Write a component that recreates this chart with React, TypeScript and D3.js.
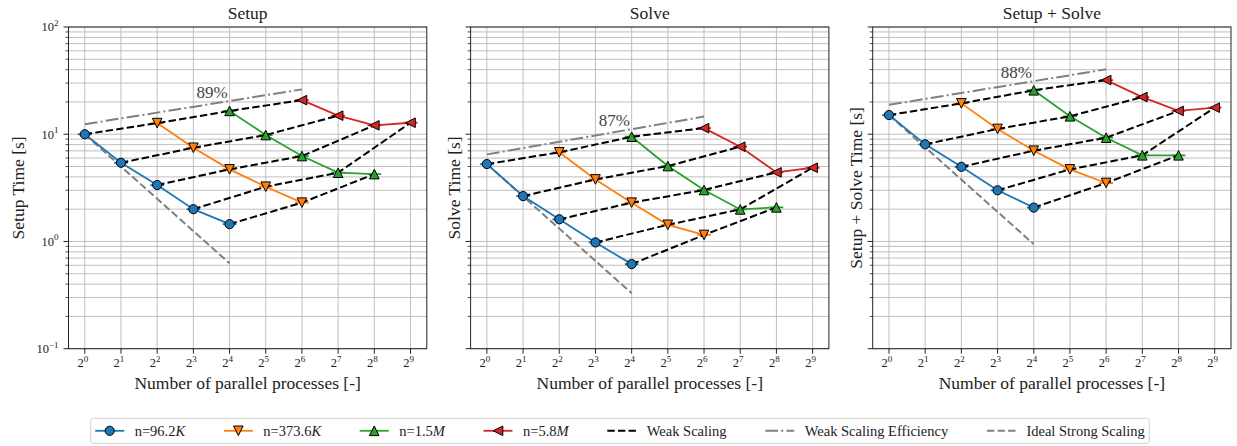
import React from 'react';
import * as d3 from 'd3';

// ---------------- data ----------------
const processes = [1, 2, 4, 8, 16, 32, 64, 128, 256, 512];
const tickExponents = ['0', '1', '2', '3', '4', '5', '6', '7', '8', '9'];
const yTickValues = [0.1, 1, 10, 100];
const yTickExps = ['\u22121', '0', '1', '2'];

const seriesLabels = ['n=96.2', 'n=373.6', 'n=1.5', 'n=5.8'];
const seriesUnits = ['K', 'K', 'M', 'M'];
const seriesStartIndex = [0, 2, 4, 6];
const seriesColors = ['#1f77b4', '#ff7f0e', '#2ca02c', '#d62728'];
const seriesMarkers = ['circle', 'down', 'up', 'left'];

// Setup times [s]
const setupN96 = [10.0, 5.42, 3.36, 2.0, 1.45];
const setupN373 = [12.7, 7.48, 4.7, 3.24, 2.3];
const setupN1500 = [16.5, 9.83, 6.26, 4.38, 4.25];
const setupN5800 = [20.8, 14.9, 12.1, 12.8];

// Solve times [s]
const solveN96 = [5.27, 2.65, 1.61, 0.98, 0.615];
const solveN373 = [6.78, 3.79, 2.3, 1.43, 1.15];
const solveN1500 = [9.48, 5.05, 3.02, 1.99, 2.08];
const solveN5800 = [11.4, 7.65, 4.41, 4.87];

// Setup + Solve times [s]
const totalN96 = [15.1, 8.05, 4.97, 3.0, 2.07];
const totalN373 = [19.4, 11.2, 7.02, 4.7, 3.51];
const totalN1500 = [25.7, 14.7, 9.28, 6.36, 6.36];
const totalN5800 = [32.0, 22.2, 16.5, 17.7];

// Weak scaling efficiency reference lines (value at 2^0 and at 2^6)
const effIndex = [0, 6];
const setupEff = [12.4, 26.2];
const solveEff = [6.49, 14.6];
const totalEff = [18.8, 40.3];
const effLabels = ['89%', '87%', '88%'];

const idealStrongCount = 5; // 2^0 .. 2^4

const panelTitles = ['Setup', 'Solve', 'Setup + Solve'];
const panelYLabels = ['Setup Time [s]', 'Solve Time [s]', 'Setup + Solve Time [s]'];
const xAxisLabel = 'Number of parallel processes [-]';

const panels = [
  { series: [setupN96, setupN373, setupN1500, setupN5800], eff: setupEff },
  { series: [solveN96, solveN373, solveN1500, solveN5800], eff: solveEff },
  { series: [totalN96, totalN373, totalN1500, totalN5800], eff: totalEff },
];

// ---------------- layout ----------------
const W = 1237;
const H = 446;
const FONT = '"Liberation Serif", "Times New Roman", serif';
const panelLeft0 = 68.5;
const panelStep = 402.1;
const panelW = 358.3;
const plotTop = 27;
const plotBottom = 348.7;
const gridColor = '#b8b8b8';
const textColor = '#222';

const FS_TITLE = 17.5;
const FS_LABEL = 17.5;
const FS_TICK = 12.5;
const FS_SUP = 9;
const FS_LEGEND = 14.5;
const FS_PCT = 17;

const yScale = d3.scaleLog().domain([0.1, 100]).range([plotBottom, plotTop]);
const minorYTicks: number[] = [];
[0.1, 1, 10].forEach((d) => {
  for (let k = 2; k <= 9; k++) minorYTicks.push(k * d);
});

function txt(size: number, extra: React.CSSProperties = {}): React.CSSProperties {
  return { fontFamily: FONT, fontSize: size, fill: textColor, ...extra };
}

function markerPath(kind: string, s: number) {
  const h = s / 2;
  if (kind === 'down') return `M0,${h}L${-h},${-h}L${h},${-h}Z`;
  if (kind === 'up') return `M0,${-h}L${-h},${h}L${h},${h}Z`;
  return `M${-h},0L${h},${-h}L${h},${h}Z`;
}

function Marker({ kind, cx, cy, color }: { kind: string; cx: number; cy: number; color: string }) {
  if (kind === 'circle') {
    return <circle cx={cx} cy={cy} r={4.6} fill={color} stroke="#000" strokeWidth={1} />;
  }
  return (
    <path d={markerPath(kind, 9.6)} transform={`translate(${cx},${cy})`} fill={color} stroke="#000" strokeWidth={1} />
  );
}

let measureCtx: CanvasRenderingContext2D | null = null;
function textWidth(t: string, size: number, italic = false) {
  if (!measureCtx) {
    const c = document.createElement('canvas');
    measureCtx = c.getContext('2d');
  }
  if (!measureCtx) return t.length * size * 0.45;
  measureCtx.font = `${italic ? 'italic ' : ''}${size}px ${FONT}`;
  return measureCtx.measureText(t).width;
}

function Panel({ idx }: { idx: number }) {
  const p = panels[idx];
  const left = panelLeft0 + idx * panelStep;
  const right = left + panelW;
  const x = d3.scaleLog().base(2).domain([2 ** -0.45, 2 ** 9.45]).range([left, right]);
  const line = d3
    .line<[number, number]>()
    .x((d) => x(d[0]))
    .y((d) => yScale(d[1]));

  const seriesPts = p.series.map((vals, si) =>
    vals.map((v, k) => [processes[seriesStartIndex[si] + k], v] as [number, number])
  );

  const weak: [number, number][][] = [];
  for (let i = 0; i < 5; i++) {
    const pts: [number, number][] = [];
    seriesPts.forEach((sp) => {
      if (sp[i]) pts.push(sp[i]);
    });
    if (pts.length > 1) weak.push(pts);
  }

  const base = p.series[0][0];
  const ideal: [number, number][] = processes.slice(0, idealStrongCount).map((n) => [n, base / n]);
  const effPts: [number, number][] = effIndex.map((ii, k) => [processes[ii], p.eff[k]]);
  const labelN = 2 ** 3.52;
  const labelV = Math.exp(Math.log(p.eff[0]) + (Math.log(p.eff[1]) - Math.log(p.eff[0])) * (3.52 / 6));

  const stub = 0.19;
  const yLabelX = idx === 0 ? 23.5 : left - 11;

  return (
    <g>
      <defs>
        <clipPath id={`clip${idx}`}>
          <rect x={left} y={plotTop} width={panelW} height={plotBottom - plotTop} />
        </clipPath>
      </defs>
      <g stroke={gridColor} strokeWidth={0.9}>
        {minorYTicks.map((v) => (
          <line key={'ym' + v} x1={left} x2={right} y1={yScale(v)} y2={yScale(v)} />
        ))}
        {yTickValues.map((v) => (
          <line key={'yM' + v} x1={left} x2={right} y1={yScale(v)} y2={yScale(v)} />
        ))}
        {processes.map((n) => (
          <line key={'x' + n} x1={x(n)} x2={x(n)} y1={plotTop} y2={plotBottom} />
        ))}
      </g>
      <g clipPath={`url(#clip${idx})`}>
        <path d={line(ideal) as string} fill="none" stroke="#808080" strokeWidth={2} strokeDasharray="7.4,3.2" />
        <path d={line(effPts) as string} fill="none" stroke="#808080" strokeWidth={2} strokeDasharray="12.8,3.2,2,3.2" />
        {seriesPts.map((sp, si) => (
          <g key={'s' + si}>
            <path d={line(sp) as string} fill="none" stroke={seriesColors[si]} strokeWidth={1.8} />
            {sp.map((d, k) => (
              <line
                key={k}
                x1={x(d[0] * 2 ** -stub)}
                x2={x(d[0] * 2 ** stub)}
                y1={yScale(d[1])}
                y2={yScale(d[1])}
                stroke={seriesColors[si]}
                strokeWidth={1.8}
              />
            ))}
          </g>
        ))}
        {weak.map((w, i) => (
          <path key={'w' + i} d={line(w) as string} fill="none" stroke="#000" strokeWidth={2} strokeDasharray="7.4,3.2" />
        ))}
        {seriesPts.map((sp, si) =>
          sp.map((d, k) => (
            <Marker key={`m${si}-${k}`} kind={seriesMarkers[si]} cx={x(d[0])} cy={yScale(d[1])} color={seriesColors[si]} />
          ))
        )}
      </g>
      <text x={x(labelN)} y={yScale(labelV) - 6} textAnchor="middle" style={txt(FS_PCT, { fill: '#444' })}>
        {effLabels[idx]}
      </text>
      <rect x={left} y={plotTop} width={panelW} height={plotBottom - plotTop} fill="none" stroke="#222" strokeWidth={1} />
      <g stroke="#222" strokeWidth={1}>
        {yTickValues.map((v) => (
          <line key={'yt' + v} x1={left - 5} x2={left} y1={yScale(v)} y2={yScale(v)} />
        ))}
        {minorYTicks.map((v) => (
          <line key={'ymt' + v} x1={left - 3} x2={left} y1={yScale(v)} y2={yScale(v)} strokeWidth={0.8} />
        ))}
        {processes.map((n) => (
          <line key={'xt' + n} x1={x(n)} x2={x(n)} y1={plotBottom} y2={plotBottom + 5} />
        ))}
      </g>
      {idx === 0 &&
        yTickValues.map((v, i) => (
          <text key={'yl' + v} x={left - 10} y={yScale(v) + 4.3} textAnchor="end" style={txt(FS_TICK)}>
            10
            <tspan dy={-5.3} style={{ fontSize: FS_SUP }}>
              {yTickExps[i]}
            </tspan>
          </text>
        ))}
      {processes.map((n, i) => (
        <text key={'xl' + n} x={x(n) - 2} y={367} textAnchor="middle" style={txt(FS_TICK)}>
          2
          <tspan dy={-5.3} style={{ fontSize: FS_SUP }}>
            {tickExponents[i]}
          </tspan>
        </text>
      ))}
      <text x={(left + right) / 2} y={19} textAnchor="middle" style={txt(FS_TITLE)}>
        {panelTitles[idx]}
      </text>
      <text x={(left + right) / 2} y={388.5} textAnchor="middle" style={txt(FS_LABEL)}>
        {xAxisLabel}
      </text>
      <text
        transform={`translate(${yLabelX},${(plotTop + plotBottom) / 2}) rotate(-90)`}
        textAnchor="middle"
        style={txt(FS_LABEL)}
      >
        {panelYLabels[idx]}
      </text>
    </g>
  );
}

function Legend() {
  const fs = FS_LEGEND;
  const boxL = 90.7;
  const boxR = 1149.3;
  const boxT = 418.3;
  const boxB = 443.3;
  const cy = (boxT + boxB) / 2;
  const handleL = 29;
  const pad = 10.5;
  const inner = 4.5;
  type Item = { kind: string; text: string; unit?: string; color?: string; marker?: string };
  const items: Item[] = [
    ...seriesLabels.map((t, i) => ({ kind: 'series', text: t, unit: seriesUnits[i], color: seriesColors[i], marker: seriesMarkers[i] })),
    { kind: 'weak', text: 'Weak Scaling' },
    { kind: 'eff', text: 'Weak Scaling Efficiency' },
    { kind: 'ideal', text: 'Ideal Strong Scaling' },
  ];
  const widths = items.map((it) => textWidth(it.text, fs) + (it.unit ? textWidth(it.unit, fs, true) : 0));
  const totalItems = widths.reduce((a, w) => a + handleL + pad + w, 0);
  const colsp = (boxR - boxL - 2 * inner - totalItems) / (items.length - 1);
  let cursor = boxL + inner;
  const nodes: React.ReactNode[] = [];
  items.forEach((it, i) => {
    const hx0 = cursor;
    const hx1 = cursor + handleL;
    const tx = hx1 + pad;
    let handle: React.ReactNode;
    if (it.kind === 'series') {
      handle = (
        <g>
          <line x1={hx0} x2={hx1} y1={cy} y2={cy} stroke={it.color} strokeWidth={1.8} />
          <Marker kind={it.marker as string} cx={(hx0 + hx1) / 2} cy={cy} color={it.color as string} />
        </g>
      );
    } else if (it.kind === 'weak') {
      handle = <line x1={hx0} x2={hx1} y1={cy} y2={cy} stroke="#000" strokeWidth={2} strokeDasharray="7.4,3.2" />;
    } else if (it.kind === 'eff') {
      handle = <line x1={hx0} x2={hx1} y1={cy} y2={cy} stroke="#808080" strokeWidth={2} strokeDasharray="12.8,3.2,2,3.2" />;
    } else {
      handle = <line x1={hx0} x2={hx1} y1={cy} y2={cy} stroke="#808080" strokeWidth={2} strokeDasharray="7.4,3.2" />;
    }
    nodes.push(
      <g key={i}>
        {handle}
        <text x={tx} y={cy + 5} style={txt(fs)}>
          {it.text}
          {it.unit ? <tspan style={{ fontStyle: 'italic' }}>{it.unit}</tspan> : null}
        </text>
      </g>
    );
    cursor = tx + widths[i] + colsp;
  });
  return (
    <g>
      <rect x={boxL} y={boxT} width={boxR - boxL} height={boxB - boxT} rx={3} fill="#fff" stroke="#d0d0d0" strokeWidth={1} />
      {nodes}
    </g>
  );
}

export default function App() {
  return (
    <svg width={W} height={H} viewBox={`0 0 ${W} ${H}`} style={{ position: 'absolute', left: 0, top: 0, background: '#fff' }}>
      <rect x={0} y={0} width={W} height={H} fill="#fff" />
      {[0, 1, 2].map((i) => (
        <Panel key={i} idx={i} />
      ))}
      <Legend />
    </svg>
  );
}
